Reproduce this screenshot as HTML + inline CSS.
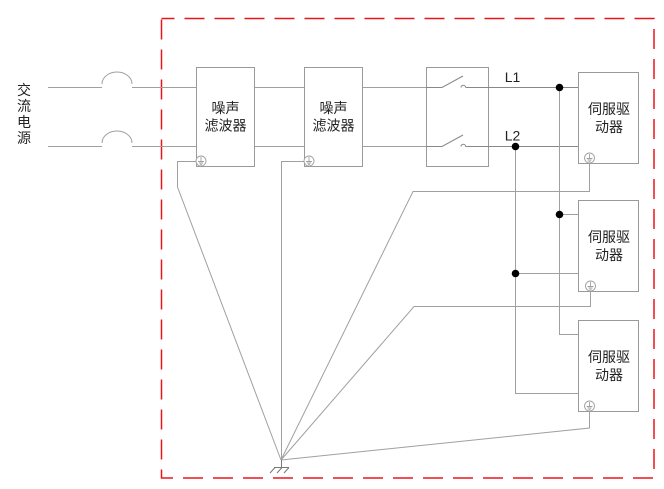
<!DOCTYPE html>
<html><head><meta charset="utf-8"><style>
html,body{margin:0;padding:0;background:#fff;}
svg{display:block;}
text{font-family:"Liberation Sans","Noto Sans CJK SC",sans-serif;fill:#222;}
</style></head><body>
<svg width="664" height="489" viewBox="0 0 664 489" xmlns="http://www.w3.org/2000/svg">
<rect x="161.5" y="18.5" width="492.5" height="459.5" fill="none" stroke="#e8161b" stroke-width="1.5" stroke-dasharray="20 10" stroke-dashoffset="7"/>

<!-- boxes -->
<g stroke="#9a9a9a" stroke-width="1" fill="none">
<rect x="196.5" y="67.5" width="58" height="99"/>
<rect x="304.5" y="67.5" width="58" height="99"/>
<rect x="426.5" y="67.5" width="62" height="99"/>
<rect x="578.5" y="72.5" width="60" height="91"/>
<rect x="578.5" y="200.5" width="60" height="91"/>
<rect x="578.5" y="320.5" width="60" height="91"/>
</g>

<g stroke="#a0a0a0" stroke-width="1" fill="none">
<!-- power lines -->
<path d="M48 87.5 H102 M102 84 A15 12 0 0 1 132 84 M132 87.5 H196"/>
<path d="M48 146.5 H102 M102 143 A15 12 0 0 1 132 143 M132 146.5 H196"/>
<path d="M255 87.5 H304 M363 87.5 H426 M255 146.5 H304 M363 146.5 H426"/>
<!-- switch internals -->
<path d="M426 87.5 H442 L463 76 M461 87.5 A2.3 2.3 0 0 1 465.6 87.5 M465.6 87.5 H578" stroke="#888"/>
<path d="M426 146.5 H442 L463 135 M461 146.5 A2.3 2.3 0 0 1 465.6 146.5 M465.6 146.5 H578" stroke="#888"/>
<!-- buses -->
<path d="M559.5 87.5 V334.5 H578 M559.5 214.5 H578"/>
<path d="M515.5 146.5 V393.5 H578 M515.5 273.5 H578"/>
<!-- ground wires -->
<path d="M196 161.5 H177.5 V187 L281 460"/>
<path d="M304 161.5 H281.5 V460"/>
<path d="M589.5 163 V191.5 H413 L281 460"/>
<path d="M590.5 291 V306.5 H414 L281 460"/>
<path d="M589.5 411 V428 L281 460"/>
<!-- earth symbol -->
<path d="M281.5 460 V467.5 M274 467.5 H289 M275 467.5 L270 473 M282 467.5 L277 473 M289 467.5 L284 473" stroke="#777"/>
</g>

<!-- ground circles -->
<g stroke="#a0a0a0" stroke-width="0.9" fill="#fff">
<g transform="translate(201,161)"><circle r="5"/><path d="M0 -4 V0.5 M-3 0.5 H3 M-2 2 H2 M-1 3.3 H1"/></g>
<g transform="translate(309,161)"><circle r="5"/><path d="M0 -4 V0.5 M-3 0.5 H3 M-2 2 H2 M-1 3.3 H1"/></g>
<g transform="translate(589.5,158)"><circle r="5"/><path d="M0 -4 V0.5 M-3 0.5 H3 M-2 2 H2 M-1 3.3 H1"/></g>
<g transform="translate(590.5,286)"><circle r="5"/><path d="M0 -4 V0.5 M-3 0.5 H3 M-2 2 H2 M-1 3.3 H1"/></g>
<g transform="translate(589.5,406)"><circle r="5"/><path d="M0 -4 V0.5 M-3 0.5 H3 M-2 2 H2 M-1 3.3 H1"/></g>
</g>

<!-- dots -->
<g fill="#000">
<circle cx="559.5" cy="87.5" r="3.8"/>
<circle cx="515.5" cy="146.5" r="3.8"/>
<circle cx="559.5" cy="214.5" r="3.8"/>
<circle cx="515.5" cy="273.5" r="3.8"/>
</g>

<!-- labels -->
<g font-size="14" text-anchor="middle">
<text x="24" y="95">交</text>
<text x="24" y="111">流</text>
<text x="24" y="127">电</text>
<text x="24" y="143">源</text>

<text x="225.5" y="113">噪声</text>
<text x="225.5" y="130.5">滤波器</text>
<text x="333.5" y="113">噪声</text>
<text x="333.5" y="130.5">滤波器</text>

<text x="609" y="114">伺服驱</text>
<text x="609" y="132">动器</text>
<text x="609" y="242">伺服驱</text>
<text x="609" y="260">动器</text>
<text x="609" y="362">伺服驱</text>
<text x="609" y="380">动器</text>

<text x="512.5" y="82">L1</text>
<text x="512.5" y="140.5">L2</text>
</g>
</svg>
</body></html>
